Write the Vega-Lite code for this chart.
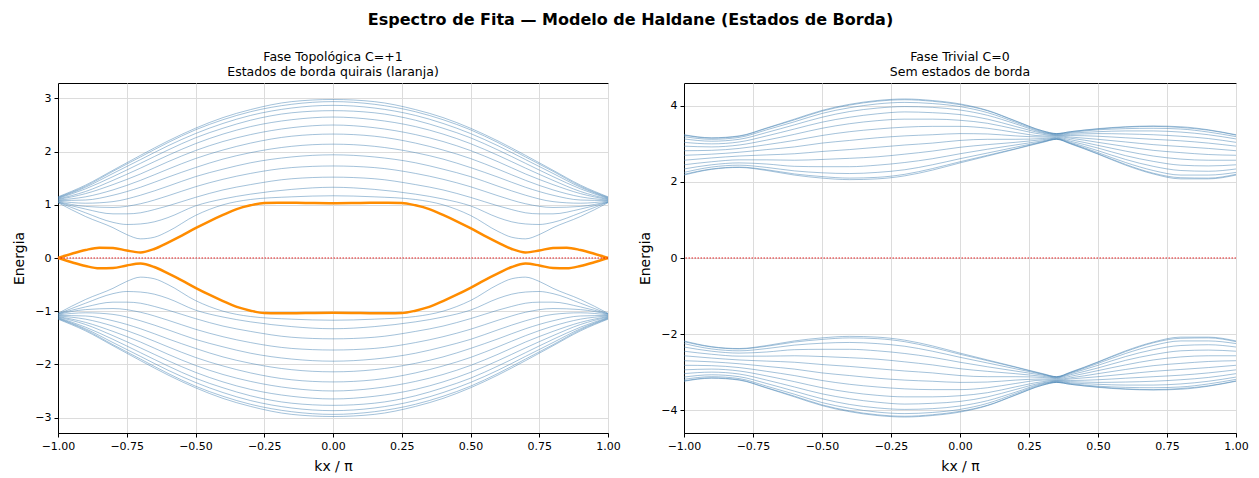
{
"$schema":"https://vega.github.io/schema/vega-lite/v6.json",
"background":"white",
"padding":{"left":12,"top":12,"right":12,"bottom":4},
"title":{"text":"Espectro de Fita — Modelo de Haldane (Estados de Borda)","fontSize":16,"fontWeight":"bold","font":"DejaVu Sans","anchor":"middle","offset":22,"color":"black"},
"config":{"font":"DejaVu Sans","view":{"stroke":"black","strokeWidth":1},
"axis":{"tickColor":"black","tickSize":4,"labelColor":"black","labelFontSize":11,"labelFont":"DejaVu Sans","titleFont":"DejaVu Sans","titleFontSize":14,"titleFontWeight":"normal","titleColor":"black","gridColor":"#dcdcdc","domain":true,"domainColor":"black","domainWidth":1,"labelPadding":3,"labelFlush":false,"labelOverlap":false},
"title":{"font":"DejaVu Sans","color":"black"}},
"spacing":76,
"bounds":"flush",
"datasets":{
"L":[
{"s":"a1","k":-1,"e":1.04},{"s":"a1","k":-0.9,"e":0.78},{"s":"a1","k":-0.8,"e":0.57},{"s":"a1","k":-0.75,"e":0.44},{"s":"a1","k":-0.7,"e":0.36},{"s":"a1","k":-0.65,"e":0.39},{"s":"a1","k":-0.6,"e":0.5},{"s":"a1","k":-0.5,"e":0.8},{"s":"a1","k":-0.4,"e":1.0},{"s":"a1","k":-0.3,"e":1.1},{"s":"a1","k":-0.15,"e":1.15},{"s":"a1","k":0,"e":1.17},{"s":"a1","k":0.15,"e":1.15},{"s":"a1","k":0.3,"e":1.1},{"s":"a1","k":0.4,"e":1.0},{"s":"a1","k":0.5,"e":0.8},{"s":"a1","k":0.6,"e":0.5},{"s":"a1","k":0.65,"e":0.39},{"s":"a1","k":0.7,"e":0.36},{"s":"a1","k":0.75,"e":0.44},{"s":"a1","k":0.8,"e":0.57},{"s":"a1","k":0.9,"e":0.78},{"s":"a1","k":1,"e":1.04},
{"s":"a2","k":-1,"e":1.05},{"s":"a2","k":-0.9,"e":0.85},{"s":"a2","k":-0.8,"e":0.67},{"s":"a2","k":-0.75,"e":0.63},{"s":"a2","k":-0.7,"e":0.64},{"s":"a2","k":-0.65,"e":0.68},{"s":"a2","k":-0.6,"e":0.76},{"s":"a2","k":-0.5,"e":0.98},{"s":"a2","k":-0.4,"e":1.11},{"s":"a2","k":-0.3,"e":1.2},{"s":"a2","k":-0.15,"e":1.29},{"s":"a2","k":0,"e":1.33},{"s":"a2","k":0.15,"e":1.29},{"s":"a2","k":0.3,"e":1.2},{"s":"a2","k":0.4,"e":1.11},{"s":"a2","k":0.5,"e":0.98},{"s":"a2","k":0.6,"e":0.76},{"s":"a2","k":0.65,"e":0.68},{"s":"a2","k":0.7,"e":0.64},{"s":"a2","k":0.75,"e":0.63},{"s":"a2","k":0.8,"e":0.67},{"s":"a2","k":0.9,"e":0.85},{"s":"a2","k":1,"e":1.05},
{"s":"a3","k":-1,"e":1.05},{"s":"a3","k":-0.9,"e":0.92},{"s":"a3","k":-0.8,"e":0.83},{"s":"a3","k":-0.75,"e":0.83},{"s":"a3","k":-0.7,"e":0.85},{"s":"a3","k":-0.65,"e":0.91},{"s":"a3","k":-0.6,"e":0.98},{"s":"a3","k":-0.5,"e":1.14},{"s":"a3","k":-0.4,"e":1.28},{"s":"a3","k":-0.3,"e":1.38},{"s":"a3","k":-0.15,"e":1.49},{"s":"a3","k":0,"e":1.52},{"s":"a3","k":0.15,"e":1.49},{"s":"a3","k":0.3,"e":1.38},{"s":"a3","k":0.4,"e":1.28},{"s":"a3","k":0.5,"e":1.14},{"s":"a3","k":0.6,"e":0.98},{"s":"a3","k":0.65,"e":0.91},{"s":"a3","k":0.7,"e":0.85},{"s":"a3","k":0.75,"e":0.83},{"s":"a3","k":0.8,"e":0.83},{"s":"a3","k":0.9,"e":0.92},{"s":"a3","k":1,"e":1.05},
{"s":"a4","k":-1,"e":1.06},{"s":"a4","k":-0.9,"e":0.97},{"s":"a4","k":-0.8,"e":0.95},{"s":"a4","k":-0.7,"e":1.02},{"s":"a4","k":-0.6,"e":1.17},{"s":"a4","k":-0.5,"e":1.34},{"s":"a4","k":-0.4,"e":1.48},{"s":"a4","k":-0.3,"e":1.59},{"s":"a4","k":-0.15,"e":1.7},{"s":"a4","k":0,"e":1.73},{"s":"a4","k":0.15,"e":1.7},{"s":"a4","k":0.3,"e":1.59},{"s":"a4","k":0.4,"e":1.48},{"s":"a4","k":0.5,"e":1.34},{"s":"a4","k":0.6,"e":1.17},{"s":"a4","k":0.7,"e":1.02},{"s":"a4","k":0.8,"e":0.95},{"s":"a4","k":0.9,"e":0.97},{"s":"a4","k":1,"e":1.06},
{"s":"a5","k":-1,"e":1.07},{"s":"a5","k":-0.9,"e":1.03},{"s":"a5","k":-0.8,"e":1.06},{"s":"a5","k":-0.7,"e":1.18},{"s":"a5","k":-0.6,"e":1.35},{"s":"a5","k":-0.5,"e":1.53},{"s":"a5","k":-0.4,"e":1.67},{"s":"a5","k":-0.3,"e":1.79},{"s":"a5","k":-0.15,"e":1.9},{"s":"a5","k":0,"e":1.94},{"s":"a5","k":0.15,"e":1.9},{"s":"a5","k":0.3,"e":1.79},{"s":"a5","k":0.4,"e":1.67},{"s":"a5","k":0.5,"e":1.53},{"s":"a5","k":0.6,"e":1.35},{"s":"a5","k":0.7,"e":1.18},{"s":"a5","k":0.8,"e":1.06},{"s":"a5","k":0.9,"e":1.03},{"s":"a5","k":1,"e":1.07},
{"s":"a6","k":-1,"e":1.08},{"s":"a6","k":-0.9,"e":1.09},{"s":"a6","k":-0.8,"e":1.18},{"s":"a6","k":-0.7,"e":1.33},{"s":"a6","k":-0.6,"e":1.52},{"s":"a6","k":-0.5,"e":1.7},{"s":"a6","k":-0.4,"e":1.86},{"s":"a6","k":-0.3,"e":1.98},{"s":"a6","k":-0.15,"e":2.1},{"s":"a6","k":0,"e":2.14},{"s":"a6","k":0.15,"e":2.1},{"s":"a6","k":0.3,"e":1.98},{"s":"a6","k":0.4,"e":1.86},{"s":"a6","k":0.5,"e":1.7},{"s":"a6","k":0.6,"e":1.52},{"s":"a6","k":0.7,"e":1.33},{"s":"a6","k":0.8,"e":1.18},{"s":"a6","k":0.9,"e":1.09},{"s":"a6","k":1,"e":1.08},
{"s":"a7","k":-1,"e":1.09},{"s":"a7","k":-0.9,"e":1.15},{"s":"a7","k":-0.8,"e":1.28},{"s":"a7","k":-0.7,"e":1.46},{"s":"a7","k":-0.6,"e":1.67},{"s":"a7","k":-0.5,"e":1.87},{"s":"a7","k":-0.4,"e":2.03},{"s":"a7","k":-0.3,"e":2.16},{"s":"a7","k":-0.15,"e":2.29},{"s":"a7","k":0,"e":2.33},{"s":"a7","k":0.15,"e":2.29},{"s":"a7","k":0.3,"e":2.16},{"s":"a7","k":0.4,"e":2.03},{"s":"a7","k":0.5,"e":1.87},{"s":"a7","k":0.6,"e":1.67},{"s":"a7","k":0.7,"e":1.46},{"s":"a7","k":0.8,"e":1.28},{"s":"a7","k":0.9,"e":1.15},{"s":"a7","k":1,"e":1.09},
{"s":"a8","k":-1,"e":1.1},{"s":"a8","k":-0.9,"e":1.21},{"s":"a8","k":-0.8,"e":1.38},{"s":"a8","k":-0.7,"e":1.58},{"s":"a8","k":-0.6,"e":1.81},{"s":"a8","k":-0.5,"e":2.02},{"s":"a8","k":-0.4,"e":2.19},{"s":"a8","k":-0.3,"e":2.32},{"s":"a8","k":-0.15,"e":2.45},{"s":"a8","k":0,"e":2.5},{"s":"a8","k":0.15,"e":2.45},{"s":"a8","k":0.3,"e":2.32},{"s":"a8","k":0.4,"e":2.19},{"s":"a8","k":0.5,"e":2.02},{"s":"a8","k":0.6,"e":1.81},{"s":"a8","k":0.7,"e":1.58},{"s":"a8","k":0.8,"e":1.38},{"s":"a8","k":0.9,"e":1.21},{"s":"a8","k":1,"e":1.1},
{"s":"a9","k":-1,"e":1.11},{"s":"a9","k":-0.9,"e":1.25},{"s":"a9","k":-0.8,"e":1.46},{"s":"a9","k":-0.7,"e":1.69},{"s":"a9","k":-0.6,"e":1.93},{"s":"a9","k":-0.5,"e":2.15},{"s":"a9","k":-0.4,"e":2.33},{"s":"a9","k":-0.3,"e":2.47},{"s":"a9","k":-0.15,"e":2.6},{"s":"a9","k":0,"e":2.65},{"s":"a9","k":0.15,"e":2.6},{"s":"a9","k":0.3,"e":2.47},{"s":"a9","k":0.4,"e":2.33},{"s":"a9","k":0.5,"e":2.15},{"s":"a9","k":0.6,"e":1.93},{"s":"a9","k":0.7,"e":1.69},{"s":"a9","k":0.8,"e":1.46},{"s":"a9","k":0.9,"e":1.25},{"s":"a9","k":1,"e":1.11},
{"s":"a10","k":-1,"e":1.12},{"s":"a10","k":-0.9,"e":1.3},{"s":"a10","k":-0.8,"e":1.53},{"s":"a10","k":-0.7,"e":1.78},{"s":"a10","k":-0.6,"e":2.03},{"s":"a10","k":-0.5,"e":2.26},{"s":"a10","k":-0.4,"e":2.44},{"s":"a10","k":-0.3,"e":2.59},{"s":"a10","k":-0.15,"e":2.73},{"s":"a10","k":0,"e":2.77},{"s":"a10","k":0.15,"e":2.73},{"s":"a10","k":0.3,"e":2.59},{"s":"a10","k":0.4,"e":2.44},{"s":"a10","k":0.5,"e":2.26},{"s":"a10","k":0.6,"e":2.03},{"s":"a10","k":0.7,"e":1.78},{"s":"a10","k":0.8,"e":1.53},{"s":"a10","k":0.9,"e":1.3},{"s":"a10","k":1,"e":1.12},
{"s":"a11","k":-1,"e":1.13},{"s":"a11","k":-0.9,"e":1.33},{"s":"a11","k":-0.8,"e":1.59},{"s":"a11","k":-0.7,"e":1.85},{"s":"a11","k":-0.6,"e":2.11},{"s":"a11","k":-0.5,"e":2.34},{"s":"a11","k":-0.4,"e":2.53},{"s":"a11","k":-0.3,"e":2.68},{"s":"a11","k":-0.15,"e":2.82},{"s":"a11","k":0,"e":2.87},{"s":"a11","k":0.15,"e":2.82},{"s":"a11","k":0.3,"e":2.68},{"s":"a11","k":0.4,"e":2.53},{"s":"a11","k":0.5,"e":2.34},{"s":"a11","k":0.6,"e":2.11},{"s":"a11","k":0.7,"e":1.85},{"s":"a11","k":0.8,"e":1.59},{"s":"a11","k":0.9,"e":1.33},{"s":"a11","k":1,"e":1.13},
{"s":"a12","k":-1,"e":1.14},{"s":"a12","k":-0.9,"e":1.35},{"s":"a12","k":-0.8,"e":1.63},{"s":"a12","k":-0.7,"e":1.9},{"s":"a12","k":-0.6,"e":2.17},{"s":"a12","k":-0.5,"e":2.41},{"s":"a12","k":-0.4,"e":2.6},{"s":"a12","k":-0.3,"e":2.75},{"s":"a12","k":-0.15,"e":2.89},{"s":"a12","k":0,"e":2.94},{"s":"a12","k":0.15,"e":2.89},{"s":"a12","k":0.3,"e":2.75},{"s":"a12","k":0.4,"e":2.6},{"s":"a12","k":0.5,"e":2.41},{"s":"a12","k":0.6,"e":2.17},{"s":"a12","k":0.7,"e":1.9},{"s":"a12","k":0.8,"e":1.63},{"s":"a12","k":0.9,"e":1.35},{"s":"a12","k":1,"e":1.14},
{"s":"a13","k":-1,"e":1.15},{"s":"a13","k":-0.9,"e":1.37},{"s":"a13","k":-0.8,"e":1.65},{"s":"a13","k":-0.7,"e":1.93},{"s":"a13","k":-0.6,"e":2.2},{"s":"a13","k":-0.5,"e":2.44},{"s":"a13","k":-0.4,"e":2.64},{"s":"a13","k":-0.3,"e":2.79},{"s":"a13","k":-0.15,"e":2.94},{"s":"a13","k":0,"e":2.98},{"s":"a13","k":0.15,"e":2.94},{"s":"a13","k":0.3,"e":2.79},{"s":"a13","k":0.4,"e":2.64},{"s":"a13","k":0.5,"e":2.44},{"s":"a13","k":0.6,"e":2.2},{"s":"a13","k":0.7,"e":1.93},{"s":"a13","k":0.8,"e":1.65},{"s":"a13","k":0.9,"e":1.37},{"s":"a13","k":1,"e":1.15},
{"s":"b1","k":-1,"e":-1.04},{"s":"b1","k":-0.9,"e":-0.78},{"s":"b1","k":-0.8,"e":-0.57},{"s":"b1","k":-0.75,"e":-0.44},{"s":"b1","k":-0.7,"e":-0.36},{"s":"b1","k":-0.65,"e":-0.39},{"s":"b1","k":-0.6,"e":-0.5},{"s":"b1","k":-0.5,"e":-0.8},{"s":"b1","k":-0.4,"e":-1.0},{"s":"b1","k":-0.3,"e":-1.1},{"s":"b1","k":-0.15,"e":-1.15},{"s":"b1","k":0,"e":-1.17},{"s":"b1","k":0.15,"e":-1.15},{"s":"b1","k":0.3,"e":-1.1},{"s":"b1","k":0.4,"e":-1.0},{"s":"b1","k":0.5,"e":-0.8},{"s":"b1","k":0.6,"e":-0.5},{"s":"b1","k":0.65,"e":-0.39},{"s":"b1","k":0.7,"e":-0.36},{"s":"b1","k":0.75,"e":-0.44},{"s":"b1","k":0.8,"e":-0.57},{"s":"b1","k":0.9,"e":-0.78},{"s":"b1","k":1,"e":-1.04},
{"s":"b2","k":-1,"e":-1.05},{"s":"b2","k":-0.9,"e":-0.85},{"s":"b2","k":-0.8,"e":-0.67},{"s":"b2","k":-0.75,"e":-0.63},{"s":"b2","k":-0.7,"e":-0.64},{"s":"b2","k":-0.65,"e":-0.68},{"s":"b2","k":-0.6,"e":-0.76},{"s":"b2","k":-0.5,"e":-0.98},{"s":"b2","k":-0.4,"e":-1.11},{"s":"b2","k":-0.3,"e":-1.2},{"s":"b2","k":-0.15,"e":-1.29},{"s":"b2","k":0,"e":-1.33},{"s":"b2","k":0.15,"e":-1.29},{"s":"b2","k":0.3,"e":-1.2},{"s":"b2","k":0.4,"e":-1.11},{"s":"b2","k":0.5,"e":-0.98},{"s":"b2","k":0.6,"e":-0.76},{"s":"b2","k":0.65,"e":-0.68},{"s":"b2","k":0.7,"e":-0.64},{"s":"b2","k":0.75,"e":-0.63},{"s":"b2","k":0.8,"e":-0.67},{"s":"b2","k":0.9,"e":-0.85},{"s":"b2","k":1,"e":-1.05},
{"s":"b3","k":-1,"e":-1.05},{"s":"b3","k":-0.9,"e":-0.92},{"s":"b3","k":-0.8,"e":-0.83},{"s":"b3","k":-0.75,"e":-0.83},{"s":"b3","k":-0.7,"e":-0.85},{"s":"b3","k":-0.65,"e":-0.91},{"s":"b3","k":-0.6,"e":-0.98},{"s":"b3","k":-0.5,"e":-1.14},{"s":"b3","k":-0.4,"e":-1.28},{"s":"b3","k":-0.3,"e":-1.38},{"s":"b3","k":-0.15,"e":-1.49},{"s":"b3","k":0,"e":-1.52},{"s":"b3","k":0.15,"e":-1.49},{"s":"b3","k":0.3,"e":-1.38},{"s":"b3","k":0.4,"e":-1.28},{"s":"b3","k":0.5,"e":-1.14},{"s":"b3","k":0.6,"e":-0.98},{"s":"b3","k":0.65,"e":-0.91},{"s":"b3","k":0.7,"e":-0.85},{"s":"b3","k":0.75,"e":-0.83},{"s":"b3","k":0.8,"e":-0.83},{"s":"b3","k":0.9,"e":-0.92},{"s":"b3","k":1,"e":-1.05},
{"s":"b4","k":-1,"e":-1.06},{"s":"b4","k":-0.9,"e":-0.97},{"s":"b4","k":-0.8,"e":-0.95},{"s":"b4","k":-0.7,"e":-1.02},{"s":"b4","k":-0.6,"e":-1.17},{"s":"b4","k":-0.5,"e":-1.34},{"s":"b4","k":-0.4,"e":-1.48},{"s":"b4","k":-0.3,"e":-1.59},{"s":"b4","k":-0.15,"e":-1.7},{"s":"b4","k":0,"e":-1.73},{"s":"b4","k":0.15,"e":-1.7},{"s":"b4","k":0.3,"e":-1.59},{"s":"b4","k":0.4,"e":-1.48},{"s":"b4","k":0.5,"e":-1.34},{"s":"b4","k":0.6,"e":-1.17},{"s":"b4","k":0.7,"e":-1.02},{"s":"b4","k":0.8,"e":-0.95},{"s":"b4","k":0.9,"e":-0.97},{"s":"b4","k":1,"e":-1.06},
{"s":"b5","k":-1,"e":-1.07},{"s":"b5","k":-0.9,"e":-1.03},{"s":"b5","k":-0.8,"e":-1.06},{"s":"b5","k":-0.7,"e":-1.18},{"s":"b5","k":-0.6,"e":-1.35},{"s":"b5","k":-0.5,"e":-1.53},{"s":"b5","k":-0.4,"e":-1.67},{"s":"b5","k":-0.3,"e":-1.79},{"s":"b5","k":-0.15,"e":-1.9},{"s":"b5","k":0,"e":-1.94},{"s":"b5","k":0.15,"e":-1.9},{"s":"b5","k":0.3,"e":-1.79},{"s":"b5","k":0.4,"e":-1.67},{"s":"b5","k":0.5,"e":-1.53},{"s":"b5","k":0.6,"e":-1.35},{"s":"b5","k":0.7,"e":-1.18},{"s":"b5","k":0.8,"e":-1.06},{"s":"b5","k":0.9,"e":-1.03},{"s":"b5","k":1,"e":-1.07},
{"s":"b6","k":-1,"e":-1.08},{"s":"b6","k":-0.9,"e":-1.09},{"s":"b6","k":-0.8,"e":-1.18},{"s":"b6","k":-0.7,"e":-1.33},{"s":"b6","k":-0.6,"e":-1.52},{"s":"b6","k":-0.5,"e":-1.7},{"s":"b6","k":-0.4,"e":-1.86},{"s":"b6","k":-0.3,"e":-1.98},{"s":"b6","k":-0.15,"e":-2.1},{"s":"b6","k":0,"e":-2.14},{"s":"b6","k":0.15,"e":-2.1},{"s":"b6","k":0.3,"e":-1.98},{"s":"b6","k":0.4,"e":-1.86},{"s":"b6","k":0.5,"e":-1.7},{"s":"b6","k":0.6,"e":-1.52},{"s":"b6","k":0.7,"e":-1.33},{"s":"b6","k":0.8,"e":-1.18},{"s":"b6","k":0.9,"e":-1.09},{"s":"b6","k":1,"e":-1.08},
{"s":"b7","k":-1,"e":-1.09},{"s":"b7","k":-0.9,"e":-1.15},{"s":"b7","k":-0.8,"e":-1.28},{"s":"b7","k":-0.7,"e":-1.46},{"s":"b7","k":-0.6,"e":-1.67},{"s":"b7","k":-0.5,"e":-1.87},{"s":"b7","k":-0.4,"e":-2.03},{"s":"b7","k":-0.3,"e":-2.16},{"s":"b7","k":-0.15,"e":-2.29},{"s":"b7","k":0,"e":-2.33},{"s":"b7","k":0.15,"e":-2.29},{"s":"b7","k":0.3,"e":-2.16},{"s":"b7","k":0.4,"e":-2.03},{"s":"b7","k":0.5,"e":-1.87},{"s":"b7","k":0.6,"e":-1.67},{"s":"b7","k":0.7,"e":-1.46},{"s":"b7","k":0.8,"e":-1.28},{"s":"b7","k":0.9,"e":-1.15},{"s":"b7","k":1,"e":-1.09},
{"s":"b8","k":-1,"e":-1.1},{"s":"b8","k":-0.9,"e":-1.21},{"s":"b8","k":-0.8,"e":-1.38},{"s":"b8","k":-0.7,"e":-1.58},{"s":"b8","k":-0.6,"e":-1.81},{"s":"b8","k":-0.5,"e":-2.02},{"s":"b8","k":-0.4,"e":-2.19},{"s":"b8","k":-0.3,"e":-2.32},{"s":"b8","k":-0.15,"e":-2.45},{"s":"b8","k":0,"e":-2.5},{"s":"b8","k":0.15,"e":-2.45},{"s":"b8","k":0.3,"e":-2.32},{"s":"b8","k":0.4,"e":-2.19},{"s":"b8","k":0.5,"e":-2.02},{"s":"b8","k":0.6,"e":-1.81},{"s":"b8","k":0.7,"e":-1.58},{"s":"b8","k":0.8,"e":-1.38},{"s":"b8","k":0.9,"e":-1.21},{"s":"b8","k":1,"e":-1.1},
{"s":"b9","k":-1,"e":-1.11},{"s":"b9","k":-0.9,"e":-1.25},{"s":"b9","k":-0.8,"e":-1.46},{"s":"b9","k":-0.7,"e":-1.69},{"s":"b9","k":-0.6,"e":-1.93},{"s":"b9","k":-0.5,"e":-2.15},{"s":"b9","k":-0.4,"e":-2.33},{"s":"b9","k":-0.3,"e":-2.47},{"s":"b9","k":-0.15,"e":-2.6},{"s":"b9","k":0,"e":-2.65},{"s":"b9","k":0.15,"e":-2.6},{"s":"b9","k":0.3,"e":-2.47},{"s":"b9","k":0.4,"e":-2.33},{"s":"b9","k":0.5,"e":-2.15},{"s":"b9","k":0.6,"e":-1.93},{"s":"b9","k":0.7,"e":-1.69},{"s":"b9","k":0.8,"e":-1.46},{"s":"b9","k":0.9,"e":-1.25},{"s":"b9","k":1,"e":-1.11},
{"s":"b10","k":-1,"e":-1.12},{"s":"b10","k":-0.9,"e":-1.3},{"s":"b10","k":-0.8,"e":-1.53},{"s":"b10","k":-0.7,"e":-1.78},{"s":"b10","k":-0.6,"e":-2.03},{"s":"b10","k":-0.5,"e":-2.26},{"s":"b10","k":-0.4,"e":-2.44},{"s":"b10","k":-0.3,"e":-2.59},{"s":"b10","k":-0.15,"e":-2.73},{"s":"b10","k":0,"e":-2.77},{"s":"b10","k":0.15,"e":-2.73},{"s":"b10","k":0.3,"e":-2.59},{"s":"b10","k":0.4,"e":-2.44},{"s":"b10","k":0.5,"e":-2.26},{"s":"b10","k":0.6,"e":-2.03},{"s":"b10","k":0.7,"e":-1.78},{"s":"b10","k":0.8,"e":-1.53},{"s":"b10","k":0.9,"e":-1.3},{"s":"b10","k":1,"e":-1.12},
{"s":"b11","k":-1,"e":-1.13},{"s":"b11","k":-0.9,"e":-1.33},{"s":"b11","k":-0.8,"e":-1.59},{"s":"b11","k":-0.7,"e":-1.85},{"s":"b11","k":-0.6,"e":-2.11},{"s":"b11","k":-0.5,"e":-2.34},{"s":"b11","k":-0.4,"e":-2.53},{"s":"b11","k":-0.3,"e":-2.68},{"s":"b11","k":-0.15,"e":-2.82},{"s":"b11","k":0,"e":-2.87},{"s":"b11","k":0.15,"e":-2.82},{"s":"b11","k":0.3,"e":-2.68},{"s":"b11","k":0.4,"e":-2.53},{"s":"b11","k":0.5,"e":-2.34},{"s":"b11","k":0.6,"e":-2.11},{"s":"b11","k":0.7,"e":-1.85},{"s":"b11","k":0.8,"e":-1.59},{"s":"b11","k":0.9,"e":-1.33},{"s":"b11","k":1,"e":-1.13},
{"s":"b12","k":-1,"e":-1.14},{"s":"b12","k":-0.9,"e":-1.35},{"s":"b12","k":-0.8,"e":-1.63},{"s":"b12","k":-0.7,"e":-1.9},{"s":"b12","k":-0.6,"e":-2.17},{"s":"b12","k":-0.5,"e":-2.41},{"s":"b12","k":-0.4,"e":-2.6},{"s":"b12","k":-0.3,"e":-2.75},{"s":"b12","k":-0.15,"e":-2.89},{"s":"b12","k":0,"e":-2.94},{"s":"b12","k":0.15,"e":-2.89},{"s":"b12","k":0.3,"e":-2.75},{"s":"b12","k":0.4,"e":-2.6},{"s":"b12","k":0.5,"e":-2.41},{"s":"b12","k":0.6,"e":-2.17},{"s":"b12","k":0.7,"e":-1.9},{"s":"b12","k":0.8,"e":-1.63},{"s":"b12","k":0.9,"e":-1.35},{"s":"b12","k":1,"e":-1.14},
{"s":"b13","k":-1,"e":-1.15},{"s":"b13","k":-0.9,"e":-1.37},{"s":"b13","k":-0.8,"e":-1.65},{"s":"b13","k":-0.7,"e":-1.93},{"s":"b13","k":-0.6,"e":-2.2},{"s":"b13","k":-0.5,"e":-2.44},{"s":"b13","k":-0.4,"e":-2.64},{"s":"b13","k":-0.3,"e":-2.79},{"s":"b13","k":-0.15,"e":-2.94},{"s":"b13","k":0,"e":-2.98},{"s":"b13","k":0.15,"e":-2.94},{"s":"b13","k":0.3,"e":-2.79},{"s":"b13","k":0.4,"e":-2.64},{"s":"b13","k":0.5,"e":-2.44},{"s":"b13","k":0.6,"e":-2.2},{"s":"b13","k":0.7,"e":-1.93},{"s":"b13","k":0.8,"e":-1.65},{"s":"b13","k":0.9,"e":-1.37},{"s":"b13","k":1,"e":-1.15}
],
"O":[
{"s":"o1","k":-1,"e":0},{"s":"o1","k":-0.95,"e":0.08},{"s":"o1","k":-0.9,"e":0.15},{"s":"o1","k":-0.85,"e":0.195},{"s":"o1","k":-0.8,"e":0.19},{"s":"o1","k":-0.75,"e":0.14},{"s":"o1","k":-0.7,"e":0.105},{"s":"o1","k":-0.65,"e":0.17},{"s":"o1","k":-0.6,"e":0.29},{"s":"o1","k":-0.55,"e":0.42},{"s":"o1","k":-0.5,"e":0.56},{"s":"o1","k":-0.45,"e":0.69},{"s":"o1","k":-0.4,"e":0.81},{"s":"o1","k":-0.35,"e":0.92},{"s":"o1","k":-0.3,"e":0.99},{"s":"o1","k":-0.25,"e":1.035},{"s":"o1","k":-0.2,"e":1.04},{"s":"o1","k":-0.1,"e":1.035},{"s":"o1","k":0,"e":1.03},{"s":"o1","k":0.1,"e":1.035},{"s":"o1","k":0.2,"e":1.04},{"s":"o1","k":0.25,"e":1.035},{"s":"o1","k":0.3,"e":0.99},{"s":"o1","k":0.35,"e":0.92},{"s":"o1","k":0.4,"e":0.81},{"s":"o1","k":0.45,"e":0.69},{"s":"o1","k":0.5,"e":0.56},{"s":"o1","k":0.55,"e":0.42},{"s":"o1","k":0.6,"e":0.29},{"s":"o1","k":0.65,"e":0.17},{"s":"o1","k":0.7,"e":0.105},{"s":"o1","k":0.75,"e":0.14},{"s":"o1","k":0.8,"e":0.19},{"s":"o1","k":0.85,"e":0.195},{"s":"o1","k":0.9,"e":0.15},{"s":"o1","k":0.95,"e":0.08},{"s":"o1","k":1,"e":0},
{"s":"o2","k":-1,"e":0},{"s":"o2","k":-0.95,"e":-0.08},{"s":"o2","k":-0.9,"e":-0.15},{"s":"o2","k":-0.85,"e":-0.195},{"s":"o2","k":-0.8,"e":-0.19},{"s":"o2","k":-0.75,"e":-0.14},{"s":"o2","k":-0.7,"e":-0.105},{"s":"o2","k":-0.65,"e":-0.17},{"s":"o2","k":-0.6,"e":-0.29},{"s":"o2","k":-0.55,"e":-0.42},{"s":"o2","k":-0.5,"e":-0.56},{"s":"o2","k":-0.45,"e":-0.69},{"s":"o2","k":-0.4,"e":-0.81},{"s":"o2","k":-0.35,"e":-0.92},{"s":"o2","k":-0.3,"e":-0.99},{"s":"o2","k":-0.25,"e":-1.035},{"s":"o2","k":-0.2,"e":-1.04},{"s":"o2","k":-0.1,"e":-1.035},{"s":"o2","k":0,"e":-1.03},{"s":"o2","k":0.1,"e":-1.035},{"s":"o2","k":0.2,"e":-1.04},{"s":"o2","k":0.25,"e":-1.035},{"s":"o2","k":0.3,"e":-0.99},{"s":"o2","k":0.35,"e":-0.92},{"s":"o2","k":0.4,"e":-0.81},{"s":"o2","k":0.45,"e":-0.69},{"s":"o2","k":0.5,"e":-0.56},{"s":"o2","k":0.55,"e":-0.42},{"s":"o2","k":0.6,"e":-0.29},{"s":"o2","k":0.65,"e":-0.17},{"s":"o2","k":0.7,"e":-0.105},{"s":"o2","k":0.75,"e":-0.14},{"s":"o2","k":0.8,"e":-0.19},{"s":"o2","k":0.85,"e":-0.195},{"s":"o2","k":0.9,"e":-0.15},{"s":"o2","k":0.95,"e":-0.08},{"s":"o2","k":1,"e":0}
],
"R":[
{"s":"c1","k":-1,"e":2.18},{"s":"c1","k":-0.9,"e":2.33},{"s":"c1","k":-0.8,"e":2.38},{"s":"c1","k":-0.7,"e":2.3},{"s":"c1","k":-0.6,"e":2.18},{"s":"c1","k":-0.5,"e":2.1},{"s":"c1","k":-0.4,"e":2.06},{"s":"c1","k":-0.3,"e":2.08},{"s":"c1","k":-0.2,"e":2.16},{"s":"c1","k":-0.1,"e":2.31},{"s":"c1","k":0,"e":2.5},{"s":"c1","k":0.1,"e":2.68},{"s":"c1","k":0.2,"e":2.86},{"s":"c1","k":0.3,"e":3.04},{"s":"c1","k":0.35,"e":3.12},{"s":"c1","k":0.4,"e":3.0},{"s":"c1","k":0.5,"e":2.73},{"s":"c1","k":0.6,"e":2.44},{"s":"c1","k":0.7,"e":2.21},{"s":"c1","k":0.8,"e":2.08},{"s":"c1","k":0.9,"e":2.08},{"s":"c1","k":1,"e":2.18},
{"s":"c2","k":-1,"e":2.2},{"s":"c2","k":-0.9,"e":2.34},{"s":"c2","k":-0.8,"e":2.39},{"s":"c2","k":-0.7,"e":2.32},{"s":"c2","k":-0.6,"e":2.21},{"s":"c2","k":-0.5,"e":2.14},{"s":"c2","k":-0.4,"e":2.1},{"s":"c2","k":-0.3,"e":2.12},{"s":"c2","k":-0.2,"e":2.2},{"s":"c2","k":-0.1,"e":2.35},{"s":"c2","k":0,"e":2.53},{"s":"c2","k":0.1,"e":2.7},{"s":"c2","k":0.2,"e":2.87},{"s":"c2","k":0.3,"e":3.05},{"s":"c2","k":0.35,"e":3.12},{"s":"c2","k":0.4,"e":3.01},{"s":"c2","k":0.5,"e":2.74},{"s":"c2","k":0.6,"e":2.46},{"s":"c2","k":0.7,"e":2.23},{"s":"c2","k":0.8,"e":2.11},{"s":"c2","k":0.9,"e":2.1},{"s":"c2","k":1,"e":2.2},
{"s":"c3","k":-1,"e":2.25},{"s":"c3","k":-0.9,"e":2.39},{"s":"c3","k":-0.8,"e":2.44},{"s":"c3","k":-0.7,"e":2.38},{"s":"c3","k":-0.6,"e":2.29},{"s":"c3","k":-0.5,"e":2.24},{"s":"c3","k":-0.4,"e":2.22},{"s":"c3","k":-0.3,"e":2.25},{"s":"c3","k":-0.2,"e":2.32},{"s":"c3","k":-0.1,"e":2.45},{"s":"c3","k":0,"e":2.61},{"s":"c3","k":0.1,"e":2.76},{"s":"c3","k":0.2,"e":2.91},{"s":"c3","k":0.3,"e":3.06},{"s":"c3","k":0.35,"e":3.13},{"s":"c3","k":0.4,"e":3.02},{"s":"c3","k":0.5,"e":2.77},{"s":"c3","k":0.6,"e":2.51},{"s":"c3","k":0.7,"e":2.3},{"s":"c3","k":0.8,"e":2.18},{"s":"c3","k":0.9,"e":2.18},{"s":"c3","k":1,"e":2.25},
{"s":"c4","k":-1,"e":2.34},{"s":"c4","k":-0.9,"e":2.45},{"s":"c4","k":-0.8,"e":2.5},{"s":"c4","k":-0.7,"e":2.47},{"s":"c4","k":-0.6,"e":2.41},{"s":"c4","k":-0.5,"e":2.4},{"s":"c4","k":-0.4,"e":2.4},{"s":"c4","k":-0.3,"e":2.44},{"s":"c4","k":-0.2,"e":2.51},{"s":"c4","k":-0.1,"e":2.61},{"s":"c4","k":0,"e":2.74},{"s":"c4","k":0.1,"e":2.86},{"s":"c4","k":0.2,"e":2.97},{"s":"c4","k":0.3,"e":3.08},{"s":"c4","k":0.35,"e":3.14},{"s":"c4","k":0.4,"e":3.04},{"s":"c4","k":0.5,"e":2.82},{"s":"c4","k":0.6,"e":2.59},{"s":"c4","k":0.7,"e":2.41},{"s":"c4","k":0.8,"e":2.3},{"s":"c4","k":0.9,"e":2.28},{"s":"c4","k":1,"e":2.34},
{"s":"c5","k":-1,"e":2.45},{"s":"c5","k":-0.9,"e":2.53},{"s":"c5","k":-0.8,"e":2.58},{"s":"c5","k":-0.7,"e":2.58},{"s":"c5","k":-0.6,"e":2.57},{"s":"c5","k":-0.5,"e":2.59},{"s":"c5","k":-0.4,"e":2.62},{"s":"c5","k":-0.3,"e":2.66},{"s":"c5","k":-0.2,"e":2.73},{"s":"c5","k":-0.1,"e":2.81},{"s":"c5","k":0,"e":2.91},{"s":"c5","k":0.1,"e":2.98},{"s":"c5","k":0.2,"e":3.04},{"s":"c5","k":0.3,"e":3.11},{"s":"c5","k":0.35,"e":3.15},{"s":"c5","k":0.4,"e":3.07},{"s":"c5","k":0.5,"e":2.89},{"s":"c5","k":0.6,"e":2.69},{"s":"c5","k":0.7,"e":2.54},{"s":"c5","k":0.8,"e":2.44},{"s":"c5","k":0.9,"e":2.42},{"s":"c5","k":1,"e":2.45},
{"s":"c6","k":-1,"e":2.57},{"s":"c6","k":-0.9,"e":2.63},{"s":"c6","k":-0.8,"e":2.68},{"s":"c6","k":-0.7,"e":2.71},{"s":"c6","k":-0.6,"e":2.74},{"s":"c6","k":-0.5,"e":2.8},{"s":"c6","k":-0.4,"e":2.85},{"s":"c6","k":-0.3,"e":2.91},{"s":"c6","k":-0.2,"e":2.97},{"s":"c6","k":-0.1,"e":3.02},{"s":"c6","k":0,"e":3.09},{"s":"c6","k":0.1,"e":3.12},{"s":"c6","k":0.2,"e":3.12},{"s":"c6","k":0.3,"e":3.14},{"s":"c6","k":0.35,"e":3.17},{"s":"c6","k":0.4,"e":3.11},{"s":"c6","k":0.5,"e":2.96},{"s":"c6","k":0.6,"e":2.81},{"s":"c6","k":0.7,"e":2.68},{"s":"c6","k":0.8,"e":2.6},{"s":"c6","k":0.9,"e":2.57},{"s":"c6","k":1,"e":2.57},
{"s":"c7","k":-1,"e":2.7},{"s":"c7","k":-0.9,"e":2.73},{"s":"c7","k":-0.8,"e":2.78},{"s":"c7","k":-0.7,"e":2.85},{"s":"c7","k":-0.6,"e":2.92},{"s":"c7","k":-0.5,"e":3.02},{"s":"c7","k":-0.4,"e":3.09},{"s":"c7","k":-0.3,"e":3.16},{"s":"c7","k":-0.2,"e":3.21},{"s":"c7","k":-0.1,"e":3.24},{"s":"c7","k":0,"e":3.27},{"s":"c7","k":0.1,"e":3.26},{"s":"c7","k":0.2,"e":3.21},{"s":"c7","k":0.3,"e":3.18},{"s":"c7","k":0.35,"e":3.19},{"s":"c7","k":0.4,"e":3.15},{"s":"c7","k":0.5,"e":3.04},{"s":"c7","k":0.6,"e":2.93},{"s":"c7","k":0.7,"e":2.83},{"s":"c7","k":0.8,"e":2.77},{"s":"c7","k":0.9,"e":2.72},{"s":"c7","k":1,"e":2.7},
{"s":"c8","k":-1,"e":2.82},{"s":"c8","k":-0.9,"e":2.83},{"s":"c8","k":-0.8,"e":2.88},{"s":"c8","k":-0.7,"e":2.98},{"s":"c8","k":-0.6,"e":3.09},{"s":"c8","k":-0.5,"e":3.22},{"s":"c8","k":-0.4,"e":3.32},{"s":"c8","k":-0.3,"e":3.39},{"s":"c8","k":-0.2,"e":3.44},{"s":"c8","k":-0.1,"e":3.46},{"s":"c8","k":0,"e":3.46},{"s":"c8","k":0.1,"e":3.41},{"s":"c8","k":0.2,"e":3.3},{"s":"c8","k":0.3,"e":3.21},{"s":"c8","k":0.35,"e":3.21},{"s":"c8","k":0.4,"e":3.18},{"s":"c8","k":0.5,"e":3.12},{"s":"c8","k":0.6,"e":3.05},{"s":"c8","k":0.7,"e":2.98},{"s":"c8","k":0.8,"e":2.93},{"s":"c8","k":0.9,"e":2.88},{"s":"c8","k":1,"e":2.82},
{"s":"c9","k":-1,"e":2.94},{"s":"c9","k":-0.9,"e":2.92},{"s":"c9","k":-0.8,"e":2.97},{"s":"c9","k":-0.7,"e":3.1},{"s":"c9","k":-0.6,"e":3.25},{"s":"c9","k":-0.5,"e":3.41},{"s":"c9","k":-0.4,"e":3.53},{"s":"c9","k":-0.3,"e":3.61},{"s":"c9","k":-0.2,"e":3.65},{"s":"c9","k":-0.1,"e":3.65},{"s":"c9","k":0,"e":3.62},{"s":"c9","k":0.1,"e":3.54},{"s":"c9","k":0.2,"e":3.39},{"s":"c9","k":0.3,"e":3.25},{"s":"c9","k":0.35,"e":3.22},{"s":"c9","k":0.4,"e":3.22},{"s":"c9","k":0.5,"e":3.2},{"s":"c9","k":0.6,"e":3.16},{"s":"c9","k":0.7,"e":3.12},{"s":"c9","k":0.8,"e":3.08},{"s":"c9","k":0.9,"e":3.02},{"s":"c9","k":1,"e":2.94},
{"s":"c10","k":-1,"e":3.04},{"s":"c10","k":-0.9,"e":3.0},{"s":"c10","k":-0.8,"e":3.05},{"s":"c10","k":-0.7,"e":3.21},{"s":"c10","k":-0.6,"e":3.39},{"s":"c10","k":-0.5,"e":3.57},{"s":"c10","k":-0.4,"e":3.7},{"s":"c10","k":-0.3,"e":3.79},{"s":"c10","k":-0.2,"e":3.84},{"s":"c10","k":-0.1,"e":3.82},{"s":"c10","k":0,"e":3.77},{"s":"c10","k":0.1,"e":3.65},{"s":"c10","k":0.2,"e":3.46},{"s":"c10","k":0.3,"e":3.28},{"s":"c10","k":0.35,"e":3.24},{"s":"c10","k":0.4,"e":3.25},{"s":"c10","k":0.5,"e":3.27},{"s":"c10","k":0.6,"e":3.26},{"s":"c10","k":0.7,"e":3.24},{"s":"c10","k":0.8,"e":3.2},{"s":"c10","k":0.9,"e":3.14},{"s":"c10","k":1,"e":3.04},
{"s":"c11","k":-1,"e":3.13},{"s":"c11","k":-0.9,"e":3.07},{"s":"c11","k":-0.8,"e":3.12},{"s":"c11","k":-0.7,"e":3.3},{"s":"c11","k":-0.6,"e":3.5},{"s":"c11","k":-0.5,"e":3.7},{"s":"c11","k":-0.4,"e":3.85},{"s":"c11","k":-0.3,"e":3.94},{"s":"c11","k":-0.2,"e":3.98},{"s":"c11","k":-0.1,"e":3.96},{"s":"c11","k":0,"e":3.89},{"s":"c11","k":0.1,"e":3.75},{"s":"c11","k":0.2,"e":3.53},{"s":"c11","k":0.3,"e":3.3},{"s":"c11","k":0.35,"e":3.25},{"s":"c11","k":0.4,"e":3.28},{"s":"c11","k":0.5,"e":3.32},{"s":"c11","k":0.6,"e":3.34},{"s":"c11","k":0.7,"e":3.34},{"s":"c11","k":0.8,"e":3.31},{"s":"c11","k":0.9,"e":3.24},{"s":"c11","k":1,"e":3.13},
{"s":"c12","k":-1,"e":3.19},{"s":"c12","k":-0.9,"e":3.12},{"s":"c12","k":-0.8,"e":3.17},{"s":"c12","k":-0.7,"e":3.37},{"s":"c12","k":-0.6,"e":3.58},{"s":"c12","k":-0.5,"e":3.8},{"s":"c12","k":-0.4,"e":3.95},{"s":"c12","k":-0.3,"e":4.05},{"s":"c12","k":-0.2,"e":4.09},{"s":"c12","k":-0.1,"e":4.06},{"s":"c12","k":0,"e":3.98},{"s":"c12","k":0.1,"e":3.82},{"s":"c12","k":0.2,"e":3.57},{"s":"c12","k":0.3,"e":3.32},{"s":"c12","k":0.35,"e":3.26},{"s":"c12","k":0.4,"e":3.3},{"s":"c12","k":0.5,"e":3.37},{"s":"c12","k":0.6,"e":3.4},{"s":"c12","k":0.7,"e":3.41},{"s":"c12","k":0.8,"e":3.39},{"s":"c12","k":0.9,"e":3.31},{"s":"c12","k":1,"e":3.19},
{"s":"c13","k":-1,"e":3.23},{"s":"c13","k":-0.9,"e":3.15},{"s":"c13","k":-0.8,"e":3.2},{"s":"c13","k":-0.7,"e":3.41},{"s":"c13","k":-0.6,"e":3.63},{"s":"c13","k":-0.5,"e":3.86},{"s":"c13","k":-0.4,"e":4.02},{"s":"c13","k":-0.3,"e":4.12},{"s":"c13","k":-0.2,"e":4.16},{"s":"c13","k":-0.1,"e":4.12},{"s":"c13","k":0,"e":4.03},{"s":"c13","k":0.1,"e":3.87},{"s":"c13","k":0.2,"e":3.6},{"s":"c13","k":0.3,"e":3.34},{"s":"c13","k":0.35,"e":3.27},{"s":"c13","k":0.4,"e":3.32},{"s":"c13","k":0.5,"e":3.39},{"s":"c13","k":0.6,"e":3.44},{"s":"c13","k":0.7,"e":3.46},{"s":"c13","k":0.8,"e":3.43},{"s":"c13","k":0.9,"e":3.36},{"s":"c13","k":1,"e":3.23},
{"s":"c14","k":-1,"e":3.24},{"s":"c14","k":-0.9,"e":3.16},{"s":"c14","k":-0.8,"e":3.21},{"s":"c14","k":-0.7,"e":3.42},{"s":"c14","k":-0.6,"e":3.65},{"s":"c14","k":-0.5,"e":3.88},{"s":"c14","k":-0.4,"e":4.04},{"s":"c14","k":-0.3,"e":4.14},{"s":"c14","k":-0.2,"e":4.18},{"s":"c14","k":-0.1,"e":4.14},{"s":"c14","k":0,"e":4.05},{"s":"c14","k":0.1,"e":3.88},{"s":"c14","k":0.2,"e":3.61},{"s":"c14","k":0.3,"e":3.34},{"s":"c14","k":0.35,"e":3.27},{"s":"c14","k":0.4,"e":3.32},{"s":"c14","k":0.5,"e":3.4},{"s":"c14","k":0.6,"e":3.45},{"s":"c14","k":0.7,"e":3.47},{"s":"c14","k":0.8,"e":3.45},{"s":"c14","k":0.9,"e":3.37},{"s":"c14","k":1,"e":3.24},
{"s":"d1","k":-1,"e":-2.18},{"s":"d1","k":-0.9,"e":-2.33},{"s":"d1","k":-0.8,"e":-2.38},{"s":"d1","k":-0.7,"e":-2.3},{"s":"d1","k":-0.6,"e":-2.18},{"s":"d1","k":-0.5,"e":-2.1},{"s":"d1","k":-0.4,"e":-2.06},{"s":"d1","k":-0.3,"e":-2.08},{"s":"d1","k":-0.2,"e":-2.16},{"s":"d1","k":-0.1,"e":-2.31},{"s":"d1","k":0,"e":-2.5},{"s":"d1","k":0.1,"e":-2.68},{"s":"d1","k":0.2,"e":-2.86},{"s":"d1","k":0.3,"e":-3.04},{"s":"d1","k":0.35,"e":-3.12},{"s":"d1","k":0.4,"e":-3.0},{"s":"d1","k":0.5,"e":-2.73},{"s":"d1","k":0.6,"e":-2.44},{"s":"d1","k":0.7,"e":-2.21},{"s":"d1","k":0.8,"e":-2.08},{"s":"d1","k":0.9,"e":-2.08},{"s":"d1","k":1,"e":-2.18},
{"s":"d2","k":-1,"e":-2.2},{"s":"d2","k":-0.9,"e":-2.34},{"s":"d2","k":-0.8,"e":-2.39},{"s":"d2","k":-0.7,"e":-2.32},{"s":"d2","k":-0.6,"e":-2.21},{"s":"d2","k":-0.5,"e":-2.14},{"s":"d2","k":-0.4,"e":-2.1},{"s":"d2","k":-0.3,"e":-2.12},{"s":"d2","k":-0.2,"e":-2.2},{"s":"d2","k":-0.1,"e":-2.35},{"s":"d2","k":0,"e":-2.53},{"s":"d2","k":0.1,"e":-2.7},{"s":"d2","k":0.2,"e":-2.87},{"s":"d2","k":0.3,"e":-3.05},{"s":"d2","k":0.35,"e":-3.12},{"s":"d2","k":0.4,"e":-3.01},{"s":"d2","k":0.5,"e":-2.74},{"s":"d2","k":0.6,"e":-2.46},{"s":"d2","k":0.7,"e":-2.23},{"s":"d2","k":0.8,"e":-2.11},{"s":"d2","k":0.9,"e":-2.1},{"s":"d2","k":1,"e":-2.2},
{"s":"d3","k":-1,"e":-2.25},{"s":"d3","k":-0.9,"e":-2.39},{"s":"d3","k":-0.8,"e":-2.44},{"s":"d3","k":-0.7,"e":-2.38},{"s":"d3","k":-0.6,"e":-2.29},{"s":"d3","k":-0.5,"e":-2.24},{"s":"d3","k":-0.4,"e":-2.22},{"s":"d3","k":-0.3,"e":-2.25},{"s":"d3","k":-0.2,"e":-2.32},{"s":"d3","k":-0.1,"e":-2.45},{"s":"d3","k":0,"e":-2.61},{"s":"d3","k":0.1,"e":-2.76},{"s":"d3","k":0.2,"e":-2.91},{"s":"d3","k":0.3,"e":-3.06},{"s":"d3","k":0.35,"e":-3.13},{"s":"d3","k":0.4,"e":-3.02},{"s":"d3","k":0.5,"e":-2.77},{"s":"d3","k":0.6,"e":-2.51},{"s":"d3","k":0.7,"e":-2.3},{"s":"d3","k":0.8,"e":-2.18},{"s":"d3","k":0.9,"e":-2.18},{"s":"d3","k":1,"e":-2.25},
{"s":"d4","k":-1,"e":-2.34},{"s":"d4","k":-0.9,"e":-2.45},{"s":"d4","k":-0.8,"e":-2.5},{"s":"d4","k":-0.7,"e":-2.47},{"s":"d4","k":-0.6,"e":-2.41},{"s":"d4","k":-0.5,"e":-2.4},{"s":"d4","k":-0.4,"e":-2.4},{"s":"d4","k":-0.3,"e":-2.44},{"s":"d4","k":-0.2,"e":-2.51},{"s":"d4","k":-0.1,"e":-2.61},{"s":"d4","k":0,"e":-2.74},{"s":"d4","k":0.1,"e":-2.86},{"s":"d4","k":0.2,"e":-2.97},{"s":"d4","k":0.3,"e":-3.08},{"s":"d4","k":0.35,"e":-3.14},{"s":"d4","k":0.4,"e":-3.04},{"s":"d4","k":0.5,"e":-2.82},{"s":"d4","k":0.6,"e":-2.59},{"s":"d4","k":0.7,"e":-2.41},{"s":"d4","k":0.8,"e":-2.3},{"s":"d4","k":0.9,"e":-2.28},{"s":"d4","k":1,"e":-2.34},
{"s":"d5","k":-1,"e":-2.45},{"s":"d5","k":-0.9,"e":-2.53},{"s":"d5","k":-0.8,"e":-2.58},{"s":"d5","k":-0.7,"e":-2.58},{"s":"d5","k":-0.6,"e":-2.57},{"s":"d5","k":-0.5,"e":-2.59},{"s":"d5","k":-0.4,"e":-2.62},{"s":"d5","k":-0.3,"e":-2.66},{"s":"d5","k":-0.2,"e":-2.73},{"s":"d5","k":-0.1,"e":-2.81},{"s":"d5","k":0,"e":-2.91},{"s":"d5","k":0.1,"e":-2.98},{"s":"d5","k":0.2,"e":-3.04},{"s":"d5","k":0.3,"e":-3.11},{"s":"d5","k":0.35,"e":-3.15},{"s":"d5","k":0.4,"e":-3.07},{"s":"d5","k":0.5,"e":-2.89},{"s":"d5","k":0.6,"e":-2.69},{"s":"d5","k":0.7,"e":-2.54},{"s":"d5","k":0.8,"e":-2.44},{"s":"d5","k":0.9,"e":-2.42},{"s":"d5","k":1,"e":-2.45},
{"s":"d6","k":-1,"e":-2.57},{"s":"d6","k":-0.9,"e":-2.63},{"s":"d6","k":-0.8,"e":-2.68},{"s":"d6","k":-0.7,"e":-2.71},{"s":"d6","k":-0.6,"e":-2.74},{"s":"d6","k":-0.5,"e":-2.8},{"s":"d6","k":-0.4,"e":-2.85},{"s":"d6","k":-0.3,"e":-2.91},{"s":"d6","k":-0.2,"e":-2.97},{"s":"d6","k":-0.1,"e":-3.02},{"s":"d6","k":0,"e":-3.09},{"s":"d6","k":0.1,"e":-3.12},{"s":"d6","k":0.2,"e":-3.12},{"s":"d6","k":0.3,"e":-3.14},{"s":"d6","k":0.35,"e":-3.17},{"s":"d6","k":0.4,"e":-3.11},{"s":"d6","k":0.5,"e":-2.96},{"s":"d6","k":0.6,"e":-2.81},{"s":"d6","k":0.7,"e":-2.68},{"s":"d6","k":0.8,"e":-2.6},{"s":"d6","k":0.9,"e":-2.57},{"s":"d6","k":1,"e":-2.57},
{"s":"d7","k":-1,"e":-2.7},{"s":"d7","k":-0.9,"e":-2.73},{"s":"d7","k":-0.8,"e":-2.78},{"s":"d7","k":-0.7,"e":-2.85},{"s":"d7","k":-0.6,"e":-2.92},{"s":"d7","k":-0.5,"e":-3.02},{"s":"d7","k":-0.4,"e":-3.09},{"s":"d7","k":-0.3,"e":-3.16},{"s":"d7","k":-0.2,"e":-3.21},{"s":"d7","k":-0.1,"e":-3.24},{"s":"d7","k":0,"e":-3.27},{"s":"d7","k":0.1,"e":-3.26},{"s":"d7","k":0.2,"e":-3.21},{"s":"d7","k":0.3,"e":-3.18},{"s":"d7","k":0.35,"e":-3.19},{"s":"d7","k":0.4,"e":-3.15},{"s":"d7","k":0.5,"e":-3.04},{"s":"d7","k":0.6,"e":-2.93},{"s":"d7","k":0.7,"e":-2.83},{"s":"d7","k":0.8,"e":-2.77},{"s":"d7","k":0.9,"e":-2.72},{"s":"d7","k":1,"e":-2.7},
{"s":"d8","k":-1,"e":-2.82},{"s":"d8","k":-0.9,"e":-2.83},{"s":"d8","k":-0.8,"e":-2.88},{"s":"d8","k":-0.7,"e":-2.98},{"s":"d8","k":-0.6,"e":-3.09},{"s":"d8","k":-0.5,"e":-3.22},{"s":"d8","k":-0.4,"e":-3.32},{"s":"d8","k":-0.3,"e":-3.39},{"s":"d8","k":-0.2,"e":-3.44},{"s":"d8","k":-0.1,"e":-3.46},{"s":"d8","k":0,"e":-3.46},{"s":"d8","k":0.1,"e":-3.41},{"s":"d8","k":0.2,"e":-3.3},{"s":"d8","k":0.3,"e":-3.21},{"s":"d8","k":0.35,"e":-3.21},{"s":"d8","k":0.4,"e":-3.18},{"s":"d8","k":0.5,"e":-3.12},{"s":"d8","k":0.6,"e":-3.05},{"s":"d8","k":0.7,"e":-2.98},{"s":"d8","k":0.8,"e":-2.93},{"s":"d8","k":0.9,"e":-2.88},{"s":"d8","k":1,"e":-2.82},
{"s":"d9","k":-1,"e":-2.94},{"s":"d9","k":-0.9,"e":-2.92},{"s":"d9","k":-0.8,"e":-2.97},{"s":"d9","k":-0.7,"e":-3.1},{"s":"d9","k":-0.6,"e":-3.25},{"s":"d9","k":-0.5,"e":-3.41},{"s":"d9","k":-0.4,"e":-3.53},{"s":"d9","k":-0.3,"e":-3.61},{"s":"d9","k":-0.2,"e":-3.65},{"s":"d9","k":-0.1,"e":-3.65},{"s":"d9","k":0,"e":-3.62},{"s":"d9","k":0.1,"e":-3.54},{"s":"d9","k":0.2,"e":-3.39},{"s":"d9","k":0.3,"e":-3.25},{"s":"d9","k":0.35,"e":-3.22},{"s":"d9","k":0.4,"e":-3.22},{"s":"d9","k":0.5,"e":-3.2},{"s":"d9","k":0.6,"e":-3.16},{"s":"d9","k":0.7,"e":-3.12},{"s":"d9","k":0.8,"e":-3.08},{"s":"d9","k":0.9,"e":-3.02},{"s":"d9","k":1,"e":-2.94},
{"s":"d10","k":-1,"e":-3.04},{"s":"d10","k":-0.9,"e":-3.0},{"s":"d10","k":-0.8,"e":-3.05},{"s":"d10","k":-0.7,"e":-3.21},{"s":"d10","k":-0.6,"e":-3.39},{"s":"d10","k":-0.5,"e":-3.57},{"s":"d10","k":-0.4,"e":-3.7},{"s":"d10","k":-0.3,"e":-3.79},{"s":"d10","k":-0.2,"e":-3.84},{"s":"d10","k":-0.1,"e":-3.82},{"s":"d10","k":0,"e":-3.77},{"s":"d10","k":0.1,"e":-3.65},{"s":"d10","k":0.2,"e":-3.46},{"s":"d10","k":0.3,"e":-3.28},{"s":"d10","k":0.35,"e":-3.24},{"s":"d10","k":0.4,"e":-3.25},{"s":"d10","k":0.5,"e":-3.27},{"s":"d10","k":0.6,"e":-3.26},{"s":"d10","k":0.7,"e":-3.24},{"s":"d10","k":0.8,"e":-3.2},{"s":"d10","k":0.9,"e":-3.14},{"s":"d10","k":1,"e":-3.04},
{"s":"d11","k":-1,"e":-3.13},{"s":"d11","k":-0.9,"e":-3.07},{"s":"d11","k":-0.8,"e":-3.12},{"s":"d11","k":-0.7,"e":-3.3},{"s":"d11","k":-0.6,"e":-3.5},{"s":"d11","k":-0.5,"e":-3.7},{"s":"d11","k":-0.4,"e":-3.85},{"s":"d11","k":-0.3,"e":-3.94},{"s":"d11","k":-0.2,"e":-3.98},{"s":"d11","k":-0.1,"e":-3.96},{"s":"d11","k":0,"e":-3.89},{"s":"d11","k":0.1,"e":-3.75},{"s":"d11","k":0.2,"e":-3.53},{"s":"d11","k":0.3,"e":-3.3},{"s":"d11","k":0.35,"e":-3.25},{"s":"d11","k":0.4,"e":-3.28},{"s":"d11","k":0.5,"e":-3.32},{"s":"d11","k":0.6,"e":-3.34},{"s":"d11","k":0.7,"e":-3.34},{"s":"d11","k":0.8,"e":-3.31},{"s":"d11","k":0.9,"e":-3.24},{"s":"d11","k":1,"e":-3.13},
{"s":"d12","k":-1,"e":-3.19},{"s":"d12","k":-0.9,"e":-3.12},{"s":"d12","k":-0.8,"e":-3.17},{"s":"d12","k":-0.7,"e":-3.37},{"s":"d12","k":-0.6,"e":-3.58},{"s":"d12","k":-0.5,"e":-3.8},{"s":"d12","k":-0.4,"e":-3.95},{"s":"d12","k":-0.3,"e":-4.05},{"s":"d12","k":-0.2,"e":-4.09},{"s":"d12","k":-0.1,"e":-4.06},{"s":"d12","k":0,"e":-3.98},{"s":"d12","k":0.1,"e":-3.82},{"s":"d12","k":0.2,"e":-3.57},{"s":"d12","k":0.3,"e":-3.32},{"s":"d12","k":0.35,"e":-3.26},{"s":"d12","k":0.4,"e":-3.3},{"s":"d12","k":0.5,"e":-3.37},{"s":"d12","k":0.6,"e":-3.4},{"s":"d12","k":0.7,"e":-3.41},{"s":"d12","k":0.8,"e":-3.39},{"s":"d12","k":0.9,"e":-3.31},{"s":"d12","k":1,"e":-3.19},
{"s":"d13","k":-1,"e":-3.23},{"s":"d13","k":-0.9,"e":-3.15},{"s":"d13","k":-0.8,"e":-3.2},{"s":"d13","k":-0.7,"e":-3.41},{"s":"d13","k":-0.6,"e":-3.63},{"s":"d13","k":-0.5,"e":-3.86},{"s":"d13","k":-0.4,"e":-4.02},{"s":"d13","k":-0.3,"e":-4.12},{"s":"d13","k":-0.2,"e":-4.16},{"s":"d13","k":-0.1,"e":-4.12},{"s":"d13","k":0,"e":-4.03},{"s":"d13","k":0.1,"e":-3.87},{"s":"d13","k":0.2,"e":-3.6},{"s":"d13","k":0.3,"e":-3.34},{"s":"d13","k":0.35,"e":-3.27},{"s":"d13","k":0.4,"e":-3.32},{"s":"d13","k":0.5,"e":-3.39},{"s":"d13","k":0.6,"e":-3.44},{"s":"d13","k":0.7,"e":-3.46},{"s":"d13","k":0.8,"e":-3.43},{"s":"d13","k":0.9,"e":-3.36},{"s":"d13","k":1,"e":-3.23},
{"s":"d14","k":-1,"e":-3.24},{"s":"d14","k":-0.9,"e":-3.16},{"s":"d14","k":-0.8,"e":-3.21},{"s":"d14","k":-0.7,"e":-3.42},{"s":"d14","k":-0.6,"e":-3.65},{"s":"d14","k":-0.5,"e":-3.88},{"s":"d14","k":-0.4,"e":-4.04},{"s":"d14","k":-0.3,"e":-4.14},{"s":"d14","k":-0.2,"e":-4.18},{"s":"d14","k":-0.1,"e":-4.14},{"s":"d14","k":0,"e":-4.05},{"s":"d14","k":0.1,"e":-3.88},{"s":"d14","k":0.2,"e":-3.61},{"s":"d14","k":0.3,"e":-3.34},{"s":"d14","k":0.35,"e":-3.27},{"s":"d14","k":0.4,"e":-3.32},{"s":"d14","k":0.5,"e":-3.4},{"s":"d14","k":0.6,"e":-3.45},{"s":"d14","k":0.7,"e":-3.47},{"s":"d14","k":0.8,"e":-3.45},{"s":"d14","k":0.9,"e":-3.37},{"s":"d14","k":1,"e":-3.24}
]
},
"hconcat":[
{"width":550,"height":350,
"view":{"stroke":"black","strokeWidth":1},
"title":{"text":["Fase Topológica C=+1","Estados de borda quirais (laranja)"],"fontSize":12.5,"fontWeight":"normal","offset":5,"lineHeight":15,"anchor":"middle"},
"layer":[
{"data":{"name":"L"},"mark":{"type":"line","interpolate":"monotone","color":"#4682b4","opacity":0.55,"strokeWidth":0.9},
"encoding":{"x":{"field":"k","type":"quantitative","scale":{"domain":[-1,1],"nice":false,"zero":false},"axis":{"title":"kx / π","values":[-1,-0.75,-0.5,-0.25,0,0.25,0.5,0.75,1],"format":".2f","titlePadding":8}},
"y":{"field":"e","type":"quantitative","scale":{"domain":[-3.29,3.29],"nice":false,"zero":false},"axis":{"title":"Energia","values":[-3,-2,-1,0,1,2,3],"format":"d","titlePadding":8}},
"detail":{"field":"s","type":"nominal"}}},
{"data":{"name":"O"},"mark":{"type":"line","interpolate":"monotone","color":"#ff8c00","strokeWidth":2.5},
"encoding":{"x":{"field":"k","type":"quantitative"},"y":{"field":"e","type":"quantitative"},"detail":{"field":"s","type":"nominal"}}},
{"data":{"values":[{}]},"mark":{"type":"rule","color":"#e31a1c","strokeDash":[1.5,1.5],"strokeWidth":1.2},"encoding":{"y":{"datum":0}}}
]},
{"width":552,"height":350,
"view":{"stroke":"black","strokeWidth":1},
"title":{"text":["Fase Trivial C=0","Sem estados de borda"],"fontSize":12.5,"fontWeight":"normal","offset":5,"lineHeight":15,"anchor":"middle"},
"layer":[
{"data":{"name":"R"},"mark":{"type":"line","interpolate":"monotone","color":"#4682b4","opacity":0.55,"strokeWidth":0.9},
"encoding":{"x":{"field":"k","type":"quantitative","scale":{"domain":[-1,1],"nice":false,"zero":false},"axis":{"title":"kx / π","values":[-1,-0.75,-0.5,-0.25,0,0.25,0.5,0.75,1],"format":".2f","titlePadding":8}},
"y":{"field":"e","type":"quantitative","scale":{"domain":[-4.6,4.6],"nice":false,"zero":false},"axis":{"title":"Energia","values":[-4,-2,0,2,4],"format":"d","titlePadding":8}},
"detail":{"field":"s","type":"nominal"}}},
{"data":{"values":[{}]},"mark":{"type":"rule","color":"#e31a1c","strokeDash":[1.5,1.5],"strokeWidth":1.2},"encoding":{"y":{"datum":0}}}
]}
]
}
